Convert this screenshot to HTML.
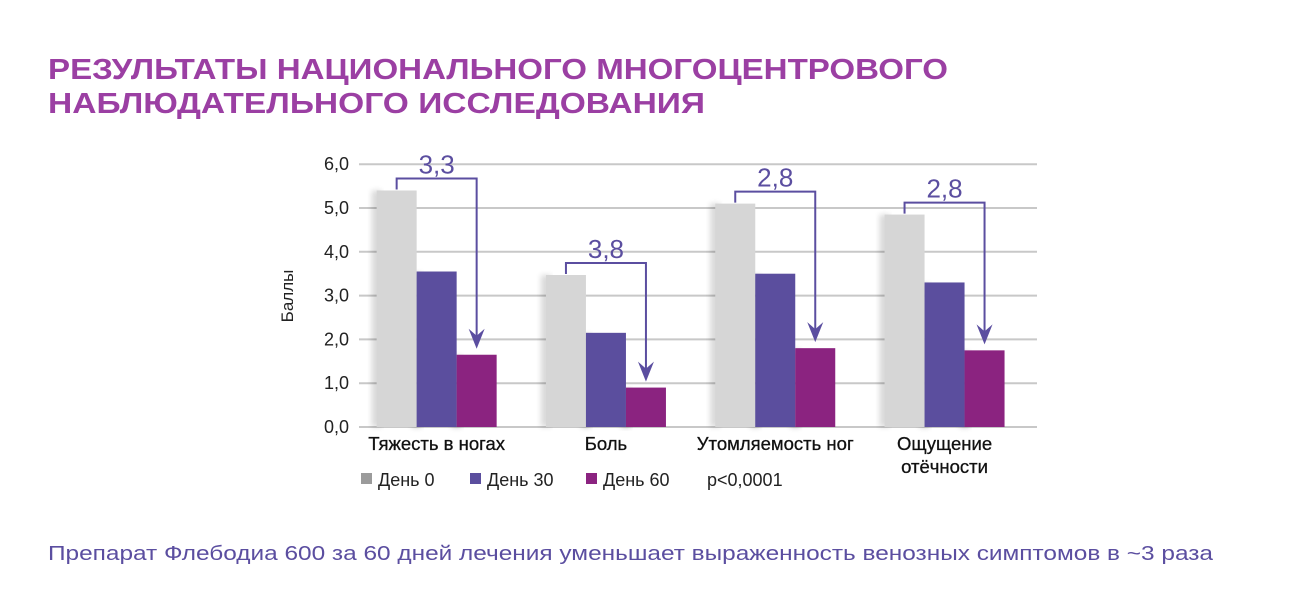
<!DOCTYPE html>
<html><head><meta charset="utf-8"><style>
html,body{margin:0;padding:0;background:#fff;}
svg{display:block;font-family:"Liberation Sans","DejaVu Sans",sans-serif;}
</style></head><body>
<svg id="chart" width="1316" height="610" viewBox="0 0 1316 610" xmlns="http://www.w3.org/2000/svg">
<defs>
<filter id="sh" x="-40%" y="-10%" width="160%" height="120%"><feGaussianBlur stdDeviation="3"/></filter>
</defs>
<text x="48" y="79" font-size="29" font-weight="bold" fill="#9B3FA3" textLength="900" lengthAdjust="spacingAndGlyphs">РЕЗУЛЬТАТЫ НАЦИОНАЛЬНОГО МНОГОЦЕНТРОВОГО</text>
<text x="48" y="113" font-size="29" font-weight="bold" fill="#9B3FA3" textLength="657" lengthAdjust="spacingAndGlyphs">НАБЛЮДАТЕЛЬНОГО ИССЛЕДОВАНИЯ</text>
<g id="grid"></g>
<g id="bars"></g>
<g id="brackets"></g>
<text transform="translate(293,296) rotate(-90)" text-anchor="middle" font-size="17" fill="#222">Баллы</text>
<g id="legend">
<rect x="361" y="473" width="11" height="11" fill="#9b9b9b"/>
<text x="378" y="486" font-size="18" fill="#222">День 0</text>
<rect x="470" y="473" width="11" height="11" fill="#5b4e9e"/>
<text x="487" y="486" font-size="18" fill="#222">День 30</text>
<rect x="586" y="473" width="11" height="11" fill="#8b2380"/>
<text x="603" y="486" font-size="18" fill="#222">День 60</text>
<text x="707" y="486" font-size="18" fill="#222">p&lt;0,0001</text>
</g>
<text x="48" y="560" font-size="20" fill="#5b4ea0" textLength="1165" lengthAdjust="spacingAndGlyphs">Препарат Флебодиа 600 за 60 дней лечения уменьшает выраженность венозных симптомов в ~3 раза</text>
</svg>
<script>
const categories = [["Тяжесть в ногах"], ["Боль"], ["Утомляемость ног"], ["Ощущение", "отёчности"]];
const day0 = [5.4, 3.47, 5.1, 4.85];
const day30 = [3.55, 2.15, 3.5, 3.3];
const day60 = [1.65, 0.9, 1.8, 1.75];
const reductions = ["3,3", "3,8", "2,8", "2,8"];
const yTicks = [0, 1, 2, 3, 4, 5, 6];
const yTickLabels = ["0,0", "1,0", "2,0", "3,0", "4,0", "5,0", "6,0"];

const NS = "http://www.w3.org/2000/svg";
const plotL = 359, plotR = 1037, y0 = 427, pxPerUnit = 43.8;
const bandStart = 352, band = 169.3, barW = 40;
function y(v){ return y0 - v * pxPerUnit; }
function xc(i){ return bandStart + band * (i + 0.5); }
function mk(tag, attrs, parent){ const e = document.createElementNS(NS, tag); for (const k in attrs) e.setAttribute(k, attrs[k]); parent.appendChild(e); return e; }

const grid = document.getElementById("grid");
yTicks.forEach((t, i) => {
  const l = mk("line", {x1: plotL, x2: plotR, y1: y(t), y2: y(t), stroke: "#c8c8c8", "stroke-width": 2}, grid);
  
  
  const tx = mk("text", {x: 349, y: y(t) + 6, "text-anchor": "end", "font-size": 18, fill: "#222"}, grid);
  tx.textContent = yTickLabels[i];
  
  
});

const bars = document.getElementById("bars");
const series = [[day0, "#d6d6d6", "day0"], [day30, "#5b4e9e", "day30"], [day60, "#8b2380", "day60"]];
categories.forEach((cat, i) => {
  const left = xc(i) - 1.5 * barW;
  series.forEach((s, j) => {
    const v = s[0][i];
    const bx = left + j * barW;
    if (j > 0) mk("rect", {x: bx - 5, y: y(v) + 2, width: 10, height: y0 - y(v) - 2, fill: "#000", opacity: 0.25, filter: "url(#sh)"}, bars);
    else mk("rect", {x: bx - 5, y: y(v), width: 10, height: y0 - y(v), fill: "#000", opacity: 0.15, filter: "url(#sh)"}, bars);
  });
  series.forEach((s, j) => {
    const v = s[0][i];
    const r = mk("rect", {x: left + j * barW, y: y(v), width: barW, height: y0 - y(v), fill: s[1]}, bars);
    
    
  });
  cat.forEach((line, k) => {
    const t = mk("text", {x: xc(i), y: 450 + k * 23, "text-anchor": "middle", "font-size": 18.5, fill: "#111", stroke: "#111", "stroke-width": 0.3}, bars);
    t.textContent = line;
    
    
  });
});

const br = document.getElementById("brackets");
categories.forEach((cat, i) => {
  const left = xc(i) - 1.5 * barW;
  const gx = left + barW * 0.5, mx = left + barW * 2.5;
  const top = y(day0[i]) - 12;
  const tip = y(day60[i]) - 6;
  const p = mk("path", {d: `M${gx},${top + 11} V${top} H${mx} V${tip - 8}`, fill: "none", stroke: "#5b4ea0", "stroke-width": 2}, br);
  
  
  const a = mk("path", {d: `M${mx - 8},${tip - 20} L${mx},${tip} L${mx + 8},${tip - 20} L${mx},${tip - 13} Z`, fill: "#5b4ea0"}, br);
  
  
  const t = mk("text", {x: (gx + mx) / 2, y: top - 5, "text-anchor": "middle", "font-size": 26, fill: "#5b4ea0"}, br);
  t.textContent = reductions[i];
  
  
});
</script>
</body></html>
